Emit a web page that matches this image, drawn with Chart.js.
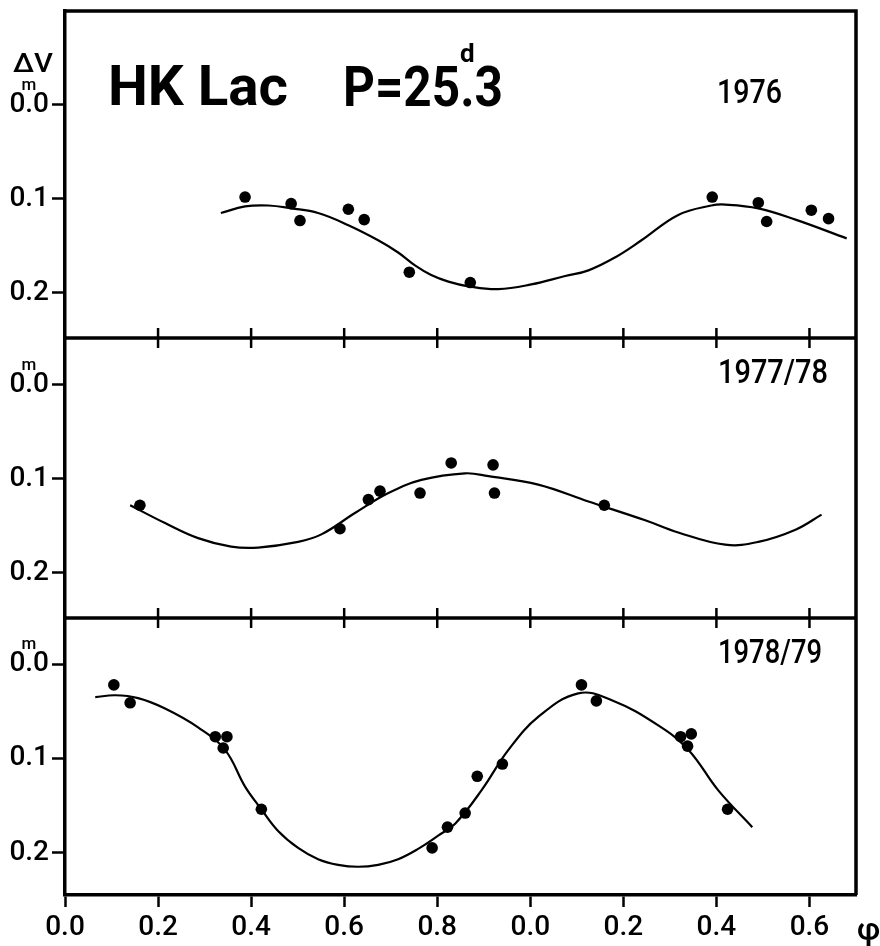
<!DOCTYPE html>
<html>
<head>
<meta charset="utf-8">
<script src="https://cdn.jsdelivr.net/npm/chart.js@4.4.0/dist/chart.umd.min.js"></script>
<style>
  html, body { margin: 0; padding: 0; background: #fff; }
</style>
</head>
<body>
<canvas id="lc" width="880" height="946"></canvas>
<script>
// HK Lac, V light curves folded with P = 25.3 d, three seasons

const phaseTicks = [0, 0.2, 0.4, 0.6, 0.8, 1.0, 1.2, 1.4, 1.6];
const magTicks = [0, 0.1, 0.2];

// 1976
const obs76Phase = [0.387, 0.486, 0.505, 0.609, 0.643, 0.740, 0.871, 1.391, 1.490, 1.508, 1.604, 1.641];
const obs76Mag = [0.098, 0.105, 0.123, 0.111, 0.122, 0.178, 0.189, 0.098, 0.104, 0.124, 0.112, 0.121];
const fit76Phase = [0.335, 0.387, 0.437, 0.486, 0.544, 0.609, 0.673, 0.716, 0.753, 0.787, 0.824, 0.867, 0.931, 1.002, 1.075, 1.125, 1.183, 1.239, 1.318, 1.389, 1.419, 1.490, 1.570, 1.680];
const fit76Mag = [0.115, 0.108, 0.107, 0.110, 0.115, 0.128, 0.144, 0.157, 0.171, 0.181, 0.188, 0.193, 0.196, 0.191, 0.182, 0.176, 0.162, 0.144, 0.117, 0.107, 0.106, 0.110, 0.122, 0.142];

// 1977/78
const obs77Phase = [0.161, 0.591, 0.652, 0.677, 0.763, 0.830, 0.920, 0.923, 1.159];
const obs77Mag = [0.128, 0.153, 0.122, 0.113, 0.115, 0.083, 0.085, 0.115, 0.128];
const fit77Phase = [0.140, 0.215, 0.286, 0.357, 0.415, 0.501, 0.551, 0.624, 0.695, 0.766, 0.860, 0.910, 1.017, 1.125, 1.247, 1.318, 1.419, 1.490, 1.570, 1.626];
const fit77Mag = [0.128, 0.147, 0.163, 0.172, 0.173, 0.167, 0.159, 0.136, 0.115, 0.101, 0.094, 0.097, 0.106, 0.124, 0.144, 0.157, 0.170, 0.167, 0.154, 0.138];

// 1978/79
const obs78Phase = [0.105, 0.140, 0.323, 0.348, 0.340, 0.422, 0.789, 0.822, 0.860, 0.886, 0.940, 1.110, 1.142, 1.323, 1.346, 1.338, 1.424];
const obs78Mag = [0.022, 0.041, 0.077, 0.077, 0.089, 0.154, 0.195, 0.173, 0.158, 0.119, 0.106, 0.022, 0.039, 0.077, 0.074, 0.087, 0.154];
const fit78Phase = [0.065, 0.108, 0.157, 0.215, 0.286, 0.344, 0.387, 0.422, 0.458, 0.501, 0.544, 0.587, 0.630, 0.673, 0.716, 0.759, 0.802, 0.839, 0.895, 0.953, 1.017, 1.103, 1.174, 1.275, 1.340, 1.404, 1.477];
const fit78Mag = [0.035, 0.033, 0.036, 0.047, 0.067, 0.091, 0.130, 0.154, 0.177, 0.195, 0.207, 0.213, 0.215, 0.213, 0.207, 0.196, 0.182, 0.169, 0.134, 0.091, 0.056, 0.031, 0.038, 0.065, 0.091, 0.134, 0.173];

const FONT = 'Roboto, "DejaVu Sans", sans-serif';

function toXY(xs, ys) {
    return xs.map((x, i) => ({ x: x, y: ys[i] }));
}

function fitLine(xs, ys, axis) {
    return {
        type: 'line',
        data: toXY(xs, ys),
        yAxisID: axis,
        borderColor: '#000',
        borderWidth: 2.2,
        pointRadius: 0,
        tension: 0.4,
        fill: false
    };
}

function dots(xs, ys, axis) {
    return {
        type: 'scatter',
        data: toXY(xs, ys),
        yAxisID: axis,
        backgroundColor: '#000',
        borderWidth: 0,
        pointRadius: 5.8
    };
}

// one panel = one stacked magnitude axis
function magScale(min, max, h, w) {
    return {
        type: 'linear',
        position: 'left',
        stack: 'panels',
        stackWeight: h,
        weight: w,
        reverse: true,
        min: min,
        max: max,
        afterBuildTicks: s => { s.ticks = magTicks.map(v => ({ value: v })); },
        afterFit: s => { s.width = 65; s.paddingTop = 0; s.paddingBottom = 0; },
        ticks: {
            callback: v => v.toFixed(1),
            font: { family: FONT, size: 28, weight: '500' },
            color: '#000',
            padding: 3
        },
        grid: { drawOnChartArea: false, tickLength: 13, tickWidth: 2.5, color: '#000' },
        border: { width: 3.5, color: '#000' }
    };
}

// text drawn at a given width
function fitText(ctx, str, x, y, width) {
    const w = ctx.measureText(str).width;
    ctx.save();
    ctx.translate(x, y);
    ctx.scale(width / w, 1);
    ctx.fillText(str, 0, 0);
    ctx.restore();
    return width / w;
}

const framePlugin = {
    id: 'frame',
    afterDraw(chart) {
        const ctx = chart.ctx;
        const a = chart.chartArea;
        const xs = chart.scales.x;
        ctx.save();
        ctx.strokeStyle = '#000';
        ctx.fillStyle = '#000';

        // top and right edges of the box
        ctx.lineWidth = 3.5;
        ctx.beginPath();
        ctx.moveTo(a.left, a.top);
        ctx.lineTo(a.right, a.top);
        ctx.lineTo(a.right, a.bottom);
        ctx.stroke();

        // panel separators with phase ticks crossing them
        ['y1', 'y2'].forEach(id => {
            const yb = chart.scales[id].bottom;
            ctx.lineWidth = 3.5;
            ctx.beginPath();
            ctx.moveTo(a.left, yb);
            ctx.lineTo(a.right, yb);
            ctx.stroke();
            ctx.lineWidth = 2.5;
            xs.ticks.forEach(t => {
                const px = xs.getPixelForValue(t.value);
                if (px <= a.left + 2) return;
                ctx.beginPath();
                ctx.moveTo(px, yb - 10);
                ctx.lineTo(px, yb + 10);
                ctx.stroke();
            });
        });

        // small "m" over the zero labels
        ctx.font = '500 17px ' + FONT;
        ctx.textAlign = 'center';
        ctx.textBaseline = 'alphabetic';
        ['y1', 'y2', 'y3'].forEach(id => {
            const y0 = chart.scales[id].getPixelForValue(0);
            ctx.fillText('m', 29, y0 - 15);
        });

        ctx.textAlign = 'left';
        ctx.font = '500 26px ' + FONT;
        fitText(ctx, '\u0394V', 13, 72, 40);

        // title
        ctx.font = 'bold 56px ' + FONT;
        fitText(ctx, 'HK Lac', 108, 105, 180);
        const k = fitText(ctx, 'P=25.3', 343, 106, 160);
        const dotX = 343 + ctx.measureText('P=25').width * k + ctx.measureText('.').width * k / 2;
        ctx.font = 'bold 26px ' + FONT;
        ctx.textAlign = 'center';
        ctx.fillText('d', dotX, 62);

        // season labels
        ctx.textAlign = 'left';
        ctx.font = '500 34px ' + FONT;
        fitText(ctx, '1976', 717, 103, 65);
        fitText(ctx, '1977/78', 718, 383, 110);
        fitText(ctx, '1978/79', 718, 663, 104);

        ctx.font = '500 32px ' + FONT;
        ctx.fillText('\u03c6', 857, 940);
        ctx.restore();
    }
};

new Chart(document.getElementById('lc'), {
    data: {
        datasets: [
            fitLine(fit76Phase, fit76Mag, 'y1'),
            dots(obs76Phase, obs76Mag, 'y1'),
            fitLine(fit77Phase, fit77Mag, 'y2'),
            dots(obs77Phase, obs77Mag, 'y2'),
            fitLine(fit78Phase, fit78Mag, 'y3'),
            dots(obs78Phase, obs78Mag, 'y3')
        ]
    },
    options: {
        responsive: false,
        animation: false,
        devicePixelRatio: 1,
        layout: { padding: { top: 11, right: 24, left: 0, bottom: 0 } },
        plugins: {
            legend: { display: false },
            tooltip: { enabled: false }
        },
        scales: {
            x: {
                type: 'linear',
                position: 'bottom',
                min: 0,
                max: 1.7,
                afterBuildTicks: s => { s.ticks = phaseTicks.map(v => ({ value: v })); },
                afterFit: s => { s.height = 51; s.paddingLeft = 0; s.paddingRight = 0; },
                ticks: {
                    callback: v => (v % 1).toFixed(1),
                    font: { family: FONT, size: 28, weight: '500' },
                    color: '#000',
                    padding: 4,
                    maxRotation: 0,
                    autoSkip: false
                },
                grid: { drawOnChartArea: false, tickLength: 12, tickWidth: 2.5, color: '#000' },
                border: { width: 3.5, color: '#000' }
            },
            y1: magScale(-0.1, 0.248, 327, 3),
            y2: magScale(-0.05, 0.248, 280, 2),
            y3: magScale(-0.049, 0.245, 277, 1)
        }
    },
    plugins: [framePlugin]
});
</script>
</body>
</html>
